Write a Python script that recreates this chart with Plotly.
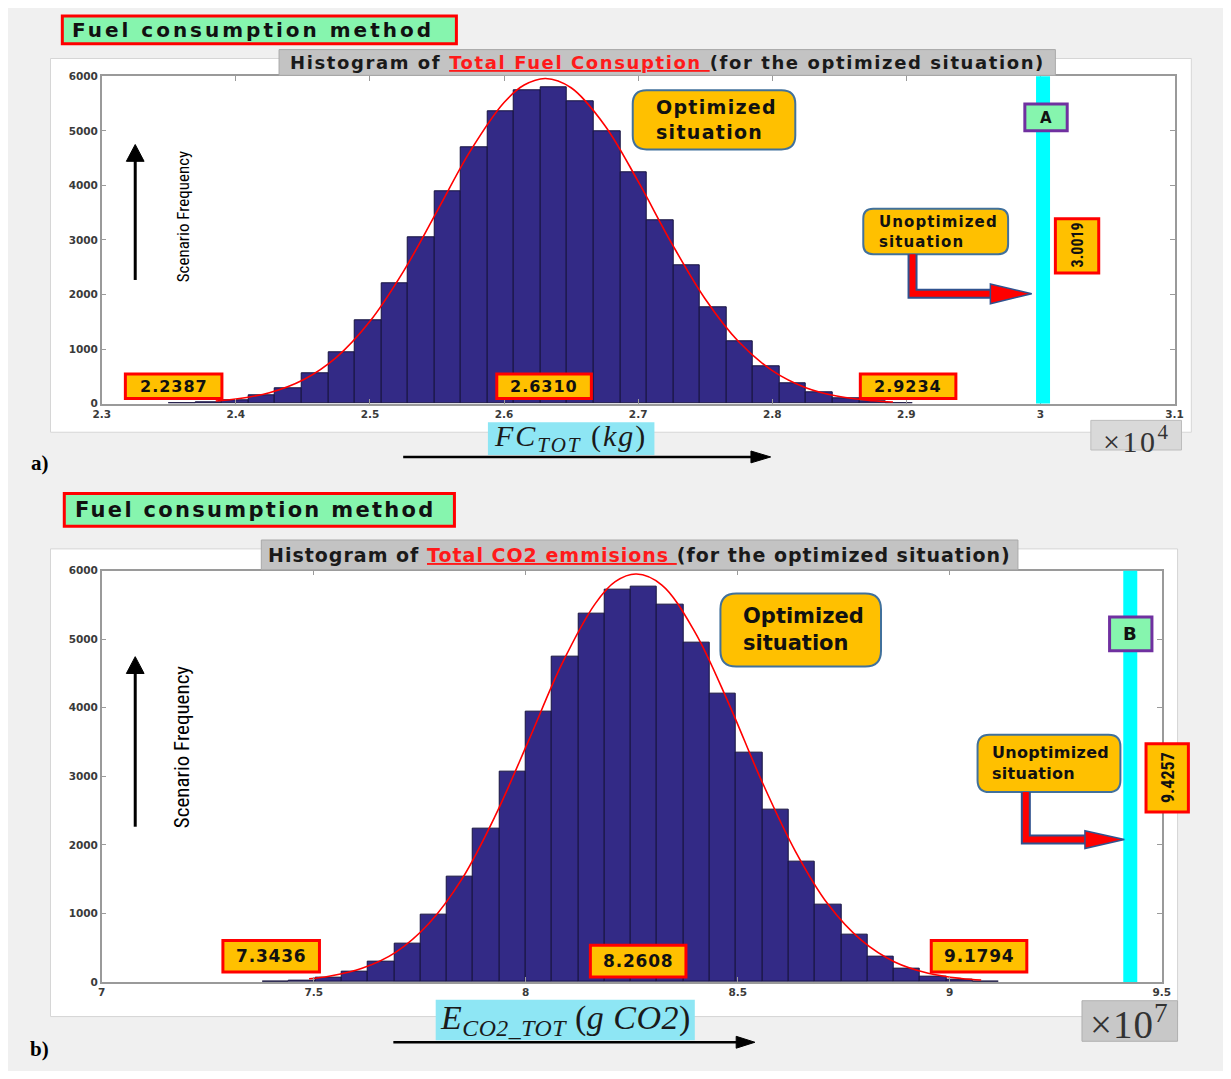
import plotly.graph_objects as go

# Target picture size; the page body keeps its default 8px margin, so the figure itself
# is drawn 16px smaller and every layout position below is given in picture pixels.
W, H = 1231, 1079
OFF = 8
FW, FH = W - 2 * OFF, H - 2 * OFF

# ---------------- Panel a: total fuel consumption (x10^4 kg) ----------------
fc_bin_left = [2.3501, 2.3699, 2.3897, 2.4095, 2.4293, 2.4491, 2.4689, 2.4887, 2.5085, 2.5283,
               2.5481, 2.5679, 2.5877, 2.6075, 2.6273, 2.6471, 2.6669, 2.6867, 2.7065, 2.7263,
               2.7461, 2.7659, 2.7857, 2.8055, 2.8253, 2.8451, 2.8649, 2.8847]
fc_bin_width = 0.0198
fc_counts = [5, 15, 60, 150, 285, 558, 940, 1521, 2200, 3042,
             3897, 4697, 5358, 5739, 5806, 5545, 4990, 4245, 3357, 2542,
             1770, 1147, 688, 380, 199, 97, 36, 10]
fc_fit_x = [2.385, 2.40, 2.425, 2.45, 2.475, 2.50, 2.525, 2.55, 2.575, 2.60, 2.615, 2.631,
            2.65, 2.675, 2.70, 2.725, 2.75, 2.775, 2.80, 2.825, 2.85, 2.875, 2.89]
fc_fit_y = [47, 83, 199, 432, 848, 1507, 2423, 3524, 4636, 5519, 5839, 5960,
            5790, 5104, 4072, 2937, 1917, 1132, 605, 292, 128, 51, 28]
fc_stats = ["2.2387", "2.6310", "2.9234"]
fc_unopt = 3.0019
fc_unopt_label = "3.0019"
fc_xticks = [2.3, 2.4, 2.5, 2.6, 2.7, 2.8, 2.9, 3.0, 3.1]
fc_xticklabels = ["2.3", "2.4", "2.5", "2.6", "2.7", "2.8", "2.9", "3", "3.1"]

# ---------------- Panel b: total CO2 emissions (x10^7 g) ----------------
co2_bin_left = [7.380, 7.442, 7.504, 7.566, 7.628, 7.690, 7.752, 7.814, 7.876, 7.938,
                8.000, 8.062, 8.124, 8.186, 8.248, 8.310, 8.372, 8.434, 8.496, 8.558,
                8.620, 8.682, 8.744, 8.806, 8.868, 8.930, 8.992, 9.054]
co2_bin_width = 0.062
co2_counts = [5, 20, 59, 146, 302, 556, 976, 1537, 2239, 3073,
              3937, 4741, 5380, 5730, 5770, 5510, 4950, 4200, 3342, 2514,
              1755, 1135, 689, 372, 193, 84, 35, 10]
co2_fit_x = [7.489, 7.536, 7.614, 7.693, 7.771, 7.850, 7.928, 8.007, 8.085, 8.164, 8.211, 8.261,
             8.321, 8.399, 8.478, 8.556, 8.635, 8.713, 8.792, 8.870, 8.949, 9.027, 9.074]
co2_fit_y = [47, 83, 199, 432, 848, 1507, 2423, 3524, 4636, 5519, 5839, 5950,
             5790, 5104, 4072, 2937, 1917, 1132, 605, 292, 128, 51, 28]
co2_stats = ["7.3436", "8.2608", "9.1794"]
co2_unopt = 9.4257
co2_unopt_label = "9.4257"
co2_xticks = [7, 7.5, 8, 8.5, 9, 9.5]
co2_xticklabels = ["7", "7.5", "8", "8.5", "9", "9.5"]

yticks = [0, 1000, 2000, 3000, 4000, 5000, 6000]
yticklabels = ["0", "1000", "2000", "3000", "4000", "5000", "6000"]

# ---------------- colours ----------------
BAR = "#332a86"
BAR_EDGE = "#17133f"
ORANGE = "#ffc000"
GREEN = "#86f5ae"
RED = "#ff0000"
CYAN = "#00ffff"
BOXBLUE = "#41719c"
PURPLE = "#7030a0"


def X(p):
    return (p - OFF) / FW


def Y(p):
    return 1 - (p - OFF) / FH


shapes = []
annots = []


def rect(x0, y0, x1, y1, fill, line=None, lw=0, layer="above"):
    shapes.append(dict(type="rect", xref="paper", yref="paper", x0=X(x0), x1=X(x1),
                       y0=Y(y1), y1=Y(y0), fillcolor=fill, layer=layer,
                       line=dict(color=line or fill, width=lw)))


def rrect(x0, y0, x1, y1, r, fill, line, lw):
    p = [("M", x0 + r, y0), ("L", x1 - r, y0), ("Q", x1, y0, x1, y0 + r), ("L", x1, y1 - r),
         ("Q", x1, y1, x1 - r, y1), ("L", x0 + r, y1), ("Q", x0, y1, x0, y1 - r),
         ("L", x0, y0 + r), ("Q", x0, y0, x0 + r, y0)]
    s = ""
    for sg in p:
        cmd = sg[0]
        pts = sg[1:]
        coords = []
        for i in range(0, len(pts), 2):
            coords.append("%.6f,%.6f" % (X(pts[i]), Y(pts[i + 1])))
        s += cmd + " " + " ".join(coords) + " "
    s += "Z"
    shapes.append(dict(type="path", xref="paper", yref="paper", path=s, fillcolor=fill,
                       line=dict(color=line, width=lw)))


def poly(pts, fill, line=None, lw=0, closed=True):
    s = "M " + " L ".join("%.6f,%.6f" % (X(a), Y(b)) for a, b in pts)
    if closed:
        s += " Z"
    d = dict(type="path", xref="paper", yref="paper", path=s,
             line=dict(color=line or fill, width=lw))
    if closed:
        d["fillcolor"] = fill
    shapes.append(d)


def seg(x0, y0, x1, y1, color, w):
    shapes.append(dict(type="line", xref="paper", yref="paper", x0=X(x0), x1=X(x1),
                       y0=Y(y0), y1=Y(y1), line=dict(color=color, width=w)))


def text(x, y, s, size, family="DejaVu Sans", color="#111111", angle=0, xanchor="center",
         align="center", ls=0):
    if ls:
        s = "<span style='letter-spacing:%.1fpx'>%s</span>" % (ls, s)
    annots.append(dict(xref="paper", yref="paper", x=X(x), y=Y(y), text=s, showarrow=False,
                       xanchor=xanchor, yanchor="middle", textangle=angle, align=align,
                       font=dict(family=family, size=size, color=color)))


# figure (white) regions
rect(42, 53, 1200, 431, "white", "#d6d6d6", 1, layer="below")
rect(42, 549, 1186, 1022, "white", "#d6d6d6", 1, layer="below")

fig = go.Figure()

# --- histograms and fitted curves
fig.add_trace(go.Bar(x=fc_bin_left, y=fc_counts, width=fc_bin_width, offset=0,
                     marker=dict(color=BAR, line=dict(color=BAR_EDGE, width=1)),
                     xaxis="x", yaxis="y", hoverinfo="skip"))
fig.add_trace(go.Scatter(x=fc_fit_x, y=fc_fit_y, mode="lines",
                         line=dict(color=RED, width=1.6, shape="spline", smoothing=1),
                         xaxis="x", yaxis="y", hoverinfo="skip"))
fig.add_trace(go.Bar(x=co2_bin_left, y=co2_counts, width=co2_bin_width, offset=0,
                     marker=dict(color=BAR, line=dict(color=BAR_EDGE, width=1)),
                     xaxis="x2", yaxis="y2", hoverinfo="skip"))
fig.add_trace(go.Scatter(x=co2_fit_x, y=co2_fit_y, mode="lines",
                         line=dict(color=RED, width=1.6, shape="spline", smoothing=1),
                         xaxis="x2", yaxis="y2", hoverinfo="skip"))

# --- unoptimized (cyan) lines, in data coordinates
shapes.append(dict(type="line", xref="x", yref="y domain", x0=fc_unopt, x1=fc_unopt, y0=0, y1=1,
                   line=dict(color=CYAN, width=14)))
shapes.append(dict(type="line", xref="x2", yref="y2 domain", x0=co2_unopt, x1=co2_unopt, y0=0, y1=1,
                   line=dict(color=CYAN, width=14)))

BOLD = "DejaVu Sans"
NARROW = "Liberation Sans Narrow, Arial Narrow, Roboto Condensed, Roboto, sans-serif"
SERIF = "Liberation Serif, Times New Roman, serif"

# ================= PANEL a =================
rect(54, 10, 454, 38, GREEN, RED, 3)
text(248, 24, "<b>Fuel consumption method</b>", 20, BOLD, ls=3.0)
rect(274, 44, 1062, 70, "#c3c3c3", "#a9a9a9", 1)
text(668, 57, "<b>Histogram of <span style='color:#ff1a1a'><u>Total Fuel Consuption </u></span>(for the optimized situation)</b>",
     18, BOLD, "#1a1a1a", ls=1.6)
rrect(633, 85, 798, 145, 14, ORANGE, BOXBLUE, 2)
text(655, 115, "<b>Optimized<br>situation</b>", 19, BOLD, xanchor="left", align="left", ls=1.3)
rrect(867, 205, 1014, 251, 10, ORANGE, BOXBLUE, 2)
text(881, 228, "<b>Unoptimized<br>situation</b>", 15, BOLD, xanchor="left", align="left", ls=1.1)
# red L arrow
poly([(917, 251), (917, 291), (998, 291)], None, "#2f528f", 10, closed=False)
poly([(917, 251), (917, 291), (998, 291)], None, RED, 6, closed=False)
poly([(996, 281), (1038, 291), (996, 301)], RED, "#2f528f", 1.5)
rect(1031, 99, 1074, 126, GREEN, PURPLE, 3)
text(1052, 113, "<b>A</b>", 15, BOLD)
rect(1062, 215, 1106, 270, ORANGE, RED, 3)
text(1084, 242, "<b>" + fc_unopt_label + "</b>", 16, NARROW, angle=-90)
for (x0, x1), s in zip([(118, 216), (495, 591), (864, 961)], fc_stats):
    rect(x0, 372, x1, 397, ORANGE, RED, 3)
    text((x0 + x1) / 2, 385, "<b>" + s + "</b>", 16, BOLD, ls=1.0)
# up arrow + y label
seg(128, 277, 128, 152, "black", 3)
poly([(119, 157), (128, 140), (137, 157)], "black", "black", 1)
text(176, 213, "Scenario Frequency", 17, NARROW, "black", angle=-90)
# x label
rect(486, 421, 655, 454, "#8ee6f4")
text(570, 437, "<i>FC</i><sub><i>TOT</i></sub> (<i>kg</i>)", 30, SERIF, "#1a1a1a", ls=2)
seg(400, 456, 758, 456, "black", 2.5)
poly([(753, 450), (773, 456), (753, 462)], "black", "black", 1)
rect(1098, 419, 1190, 449, "#d9d9d9", "#bdbdbd", 1)
text(1144, 438, "×10<sup>4</sup>", 30, SERIF, "#333333", ls=2.5)
text(31, 462, "<b>a)</b>", 21, SERIF, "black")

# ================= PANEL b =================
rect(56, 493, 452, 526, GREEN, RED, 3)
text(250, 510, "<b>Fuel consumption method</b>", 21, BOLD, ls=2.3)
rect(256, 540, 1024, 570, "#c3c3c3", "#a9a9a9", 1)
text(640, 555, "<b>Histogram of <span style='color:#ff1a1a'><u>Total CO2 emmisions </u></span>(for the optimized situation)</b>",
     19, BOLD, "#1a1a1a", ls=1.0)
rrect(722, 594, 885, 668, 16, ORANGE, BOXBLUE, 2)
text(743, 631, "<b>Optimized<br>situation</b>", 21, BOLD, xanchor="left", align="left")
rrect(983, 737, 1128, 795, 12, ORANGE, BOXBLUE, 2)
text(996, 766, "<b>Unoptimized<br>situation</b>", 16, BOLD, xanchor="left", align="left", ls=0.3)
poly([(1032, 795), (1032, 843), (1094, 843)], None, "#2f528f", 10, closed=False)
poly([(1032, 795), (1032, 843), (1094, 843)], None, RED, 6, closed=False)
poly([(1092, 834), (1132, 843), (1092, 852)], RED, "#2f528f", 1.5)
rect(1117, 618, 1160, 652, GREEN, PURPLE, 3)
text(1138, 635, "<b>B</b>", 18, BOLD)
rect(1154, 746, 1197, 815, ORANGE, RED, 3)
text(1176, 780, "<b>" + co2_unopt_label + "</b>", 18, NARROW, angle=-90)
for (x0, x1, y0, y1), s in zip([(217, 315, 945, 977), (590, 687, 950, 982), (936, 1033, 945, 977)], co2_stats):
    rect(x0, y0, x1, y1, ORANGE, RED, 3)
    text((x0 + x1) / 2, (y0 + y1) / 2, "<b>" + s + "</b>", 17, BOLD, ls=0.8)
seg(128, 830, 128, 672, "black", 3)
poly([(119, 675), (128, 658), (137, 675)], "black", "black", 1)
text(175, 749, "Scenario Frequency", 21, NARROW, "black", angle=-90)
rect(433, 1005, 696, 1046, "#8ee6f4")
text(565, 1025, "<i>E</i><sub><i>CO2_TOT</i></sub> (<i>g CO2</i>)", 34, SERIF, "#1a1a1a", ls=0.5)
seg(390, 1048, 742, 1048, "black", 2.5)
poly([(738, 1042), (757, 1048), (738, 1054)], "black", "black", 1)
rect(1089, 1006, 1186, 1047, "#c8c8c8", "#b0b0b0", 1)
text(1137, 1028, "×10<sup>7</sup>", 39, SERIF, "#333333", ls=1.0)
text(31, 1055, "<b>b)</b>", 21, SERIF, "black")

axis_common = dict(showline=True, linecolor="#9a9a9a", linewidth=1.5, mirror="ticks",
                   ticks="inside", ticklen=5, tickcolor="#9a9a9a", showgrid=False, zeroline=False,
                   tickfont=dict(family="DejaVu Sans", size=10.5, color="#3a3a3a", weight="bold"),
                   fixedrange=True)

fig.update_layout(
    width=FW, height=FH, margin=dict(l=0, r=0, t=0, b=0),
    paper_bgcolor="#f0f0f0", plot_bgcolor="white", showlegend=False, bargap=0,
    xaxis=dict(domain=[X(94), X(1183)], range=[2.3, 3.1], tickvals=fc_xticks,
               ticktext=fc_xticklabels, anchor="y", **axis_common),
    yaxis=dict(domain=[Y(402), Y(71)], range=[0, 6000], tickvals=yticks,
               ticktext=yticklabels, anchor="x", **axis_common),
    xaxis2=dict(domain=[X(94), X(1170)], range=[7, 9.5], tickvals=co2_xticks,
                ticktext=co2_xticklabels, anchor="y2", **axis_common),
    yaxis2=dict(domain=[Y(987), Y(571)], range=[0, 6000], tickvals=yticks,
                ticktext=yticklabels, anchor="x2", **axis_common),
    shapes=shapes, annotations=annots,
)

fig.write_html("out.html", config={"displayModeBar": False})
